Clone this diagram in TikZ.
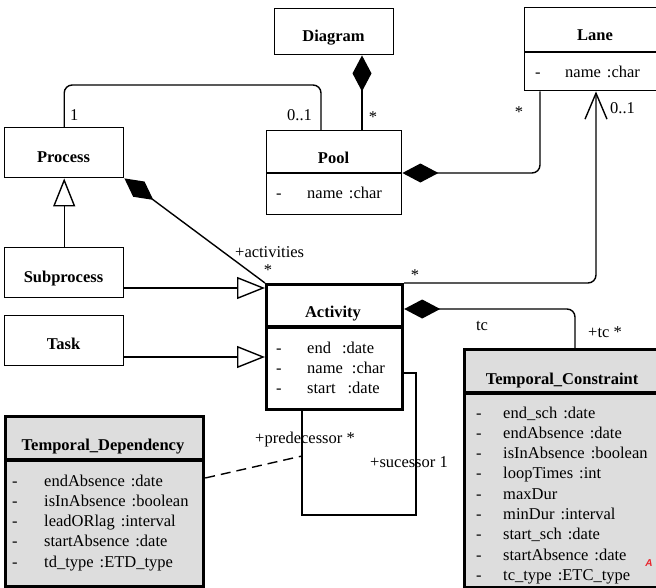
\documentclass[tikz,border=0pt]{standalone}
\usepackage{fontspec}
\setmainfont{Liberation Serif}
\newfontfamily\marksans{Liberation Sans}
\usetikzlibrary{arrows.meta}
\definecolor{clsfill}{RGB}{221,221,221}
\definecolor{markred}{RGB}{232,36,44}
\begin{document}
\begin{tikzpicture}[x=1pt,y=-1pt,
  every node/.style={inner sep=0pt, font=\fontsize{16.5}{20}\selectfont},
  box/.style={draw, line width=1.4pt, rectangle, anchor=north west, inner sep=0pt},
  heavybox/.style={box, line width=3.2pt},
  shaded/.style={fill=clsfill},
  divider/.style={line width=1.4pt},
  heavydivider/.style={line width=3.2pt},
  title/.style={anchor=base, font=\fontsize{16.5}{20}\selectfont\bfseries},
  attr/.style={anchor=base west},
  lbl/.style={anchor=base west},
  clbl/.style={anchor=base},
  link/.style={line width=1.4pt, rounded corners=8pt},
  comp/.style={link, {Diamond[length=36pt,width=19pt]}-},
  gen/.style={link, -{Triangle[open,length=28pt,width=22pt,fill=white]}},
  nav/.style={link, -{Straight Barb[length=26pt,width=22pt,line width=1.4pt]}},
  assocline/.style={line width=1.4pt, dash pattern=on 10pt off 6pt},
]
\useasboundingbox (0,0) rectangle (656,587);
\fill[white] (0,0) rectangle (656,587);
\clip (0,0) rectangle (656,587);

% ---------- classes ----------
\node[box, minimum width=119pt, minimum height=46pt] (diagram) at (274,8) {};
\node[title] (diagram-t) at (333.5,41) {Diagram};

\node[box, minimum width=142pt, minimum height=83pt] (lane) at (524,7) {};
\draw[divider] (524,52) -- (666,52);
\node[title] (lane-t) at (595,40) {Lane};
\node[attr] (lane-d1) at (535,77) {-};
\node[attr] (lane-a1) at (565,77) {name\hspace{6pt}:char};

\node[box, minimum width=119pt, minimum height=50pt] (process) at (4,127) {};
\node[title] (process-t) at (63.5,162) {Process};

\node[box, minimum width=135pt, minimum height=84pt] (pool) at (266,130) {};
\draw[divider] (266,173) -- (401,173);
\node[title] (pool-t) at (333.5,163) {Pool};
\node[attr] (pool-d1) at (276,198) {-};
\node[attr] (pool-a1) at (307,198) {name\hspace{6pt}:char};

\node[box, minimum width=119pt, minimum height=50pt] (subprocess) at (4,247) {};
\node[title] (subprocess-t) at (63.5,282) {Subprocess};

\node[box, minimum width=119pt, minimum height=50pt] (task) at (4,315) {};
\node[title] (task-t) at (63.5,349) {Task};

\node[heavybox, minimum width=136pt, minimum height=125pt] (activity) at (265,283) {};
\draw[heavydivider] (265,327) -- (401,327);
\node[title] (activity-t) at (333,317) {Activity};
\node[attr] (act-d1) at (276,353) {-};
\node[attr] (act-a1) at (307,353) {end\hspace{11pt}:date};
\node[attr] (act-d2) at (276,373) {-};
\node[attr] (act-a2) at (307,373) {name\hspace{9pt}:char};
\node[attr] (act-d3) at (276,393) {-};
\node[attr] (act-a3) at (307,393) {start\hspace{12pt}:date};

\node[heavybox, shaded, minimum width=198pt, minimum height=238pt] (tc) at (463,348) {};
\draw[heavydivider] (463,393) -- (661,393);
\node[title] (tc-t) at (562,384) {Temporal\_Constraint};
\foreach \txt [count=\i from 0] in {%
    end\_sch\hspace{6pt}:date,
    endAbsence\hspace{6pt}:date,
    isInAbsence\hspace{6pt}:boolean,
    loopTimes\hspace{6pt}:int,
    maxDur,
    minDur\hspace{6pt}:interval,
    start\_sch\hspace{6pt}:date,
    startAbsence\hspace{6pt}:date,
    tc\_type\hspace{6pt}:ETC\_type}{
  \node[attr] (tc-d\i) at (476,418+20.3*\i) {-};
  \node[attr] (tc-a\i) at (503,418+20.3*\i) {\txt};
}

\node[heavybox, shaded, minimum width=198pt, minimum height=170pt] (td) at (4,415) {};
\draw[heavydivider] (4,460) -- (202,460);
\node[title] (td-t) at (103,450) {Temporal\_Dependency};
\foreach \txt [count=\i from 0] in {%
    endAbsence\hspace{6pt}:date,
    isInAbsence\hspace{6pt}:boolean,
    leadORlag\hspace{6pt}:interval,
    startAbsence\hspace{6pt}:date,
    td\_type\hspace{6pt}:ETD\_type}{
  \node[attr] (td-d\i) at (12,486+20.25*\i) {-};
  \node[attr] (td-a\i) at (44,486+20.25*\i) {\txt};
}

% ---------- routing points ----------
\coordinate (pp-in) at (321,130);
\coordinate (dp-x) at (362,0);
\coordinate (pl-x) at (540,173);
\coordinate (al-x) at (596,0);
\coordinate (sub-y) at (0,288);
\coordinate (task-y) at (0,357);
\coordinate (atc-x) at (575,309);
\coordinate (pred-corner) at (302,515);
\coordinate (self-corner) at (416,515);
\coordinate (succ-corner) at (416,373);
\coordinate (assoc) at (302,456);
\coordinate (td-y) at (0,478);

% ---------- connectors ----------
\draw[link] (process.north) -- ++(0,-42) -| (pp-in);
\draw[comp] (diagram.south -| dp-x) -- (pool.north -| dp-x);
\draw[comp] (pool.east |- pl-x) -| (lane.south -| pl-x);
\draw[nav] (activity.north east) -| (lane.south -| al-x);
\draw[comp] (process.south east) -- (activity.north west);
\draw[gen] (subprocess.north) -- (process.south);
\draw[gen] (subprocess.east |- sub-y) -- (activity.west |- sub-y);
\draw[gen] (task.east |- task-y) -- (activity.west |- task-y);
\draw[comp] (activity.east |- atc-x) -| (tc.north -| atc-x);
\draw[line width=1.4pt] (activity.south -| pred-corner) -- (pred-corner)
  -- (self-corner) -- (succ-corner) -- (activity.east |- succ-corner);
\draw[assocline] (td.east |- td-y) -- (assoc);

% ---------- role names and multiplicities ----------
\node[lbl] (m-pp1) at (70,120) {1};
\node[lbl] (m-pp2) at (287,120) {0..1};
\node[clbl] (m-dp) at (373,122) {*};
\node[clbl] (m-pl) at (519,117) {*};
\node[lbl] (m-al) at (610,113) {0..1};
\node[lbl] (r-act) at (235,257) {+activities};
\node[clbl] (m-act) at (268,275) {*};
\node[clbl] (m-al2) at (415,280) {*};
\node[clbl] (r-tc1) at (482,330) {tc};
\node[lbl] (r-tc2) at (588,337) {+tc *};
\node[lbl] (r-pred) at (255,443) {+predecessor *};
\node[lbl] (r-succ) at (370,467) {+sucessor 1};

\node[font=\marksans\bfseries\itshape\fontsize{10}{10}\selectfont, text=markred] (corner-a) at (649,563) {A};
\end{tikzpicture}
\end{document}
